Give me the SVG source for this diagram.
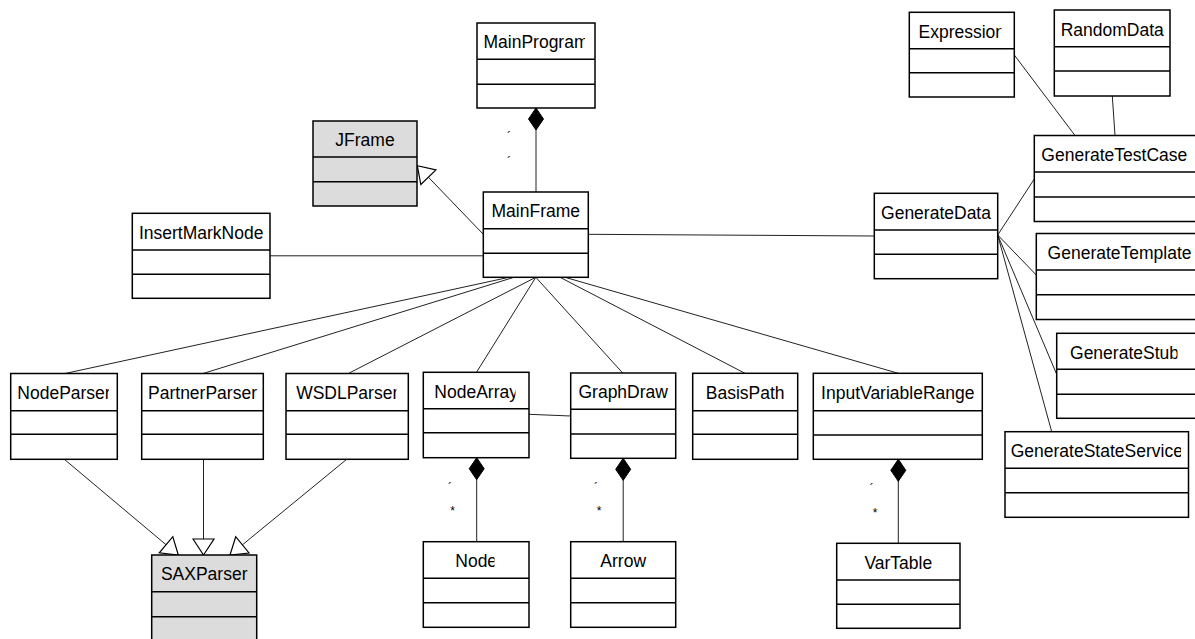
<svg xmlns="http://www.w3.org/2000/svg" width="1195" height="639" viewBox="0 0 1195 639">
<style>
.box{fill:#ffffff;stroke:#000000;stroke-width:1.5}
.gray{fill:#dcdcdc}
.dv{stroke:#000000;stroke-width:1.5}
.lbl{font-family:"Liberation Sans",Arial,sans-serif;font-size:17.5px;fill:#000000;text-anchor:middle}
.mult{font-family:"Liberation Sans",Arial,sans-serif;font-size:12px;fill:#000000;text-anchor:middle}
.conn{stroke:#222222;stroke-width:1;fill:none}
.gen{marker-end:url(#genArrow)}
.comp{marker-start:url(#diamond)}
</style>
<defs>
<marker id="genArrow" markerUnits="userSpaceOnUse" viewBox="0 0 19 24" markerWidth="19" markerHeight="24" refX="17.5" refY="12" orient="auto">
<path d="M17.5,12 L1.5,1.5 L1.5,22.5 Z" fill="#ffffff" stroke="#000000" stroke-width="1.2"/>
</marker>
<marker id="diamond" markerUnits="userSpaceOnUse" viewBox="-1 -9 25 18" markerWidth="25" markerHeight="18" refX="0" refY="0" orient="auto">
<path d="M0,0 L11,-7.5 L22,0 L11,7.5 Z" fill="#000000" stroke="#000000" stroke-width="1"/>
</marker>
<clipPath id="cMainProgram"><rect x="470" y="20" width="115" height="40"/></clipPath>
<clipPath id="cExpression"><rect x="905" y="10" width="96.5" height="40"/></clipPath>
<clipPath id="cNodeParser"><rect x="5" y="370" width="104" height="40"/></clipPath>
<clipPath id="cWSDLParser"><rect x="280" y="370" width="116.5" height="40"/></clipPath>
<clipPath id="cNodeArray"><rect x="420" y="370" width="95.5" height="40"/></clipPath>
<clipPath id="cNode"><rect x="420" y="540" width="74.5" height="40"/></clipPath>
<clipPath id="cGenerateStub"><rect x="1050" y="330" width="127.5" height="40"/></clipPath>
<clipPath id="cGenerateStateService"><rect x="1000" y="430" width="181" height="40"/></clipPath>
</defs>

<g id="connectors">
<line class="conn comp" x1="536" y1="108" x2="536" y2="192"/>
<line class="conn gen" x1="483.3" y1="234.3" x2="417.3" y2="165.7"/>
<line class="conn" x1="270" y1="255.8" x2="483.3" y2="255.8"/>
<line class="conn" x1="588.3" y1="234.3" x2="874.3" y2="236"/>
<line class="conn" x1="997.7" y1="235" x2="1034.3" y2="179"/>
<line class="conn" x1="997.7" y1="235" x2="1036.3" y2="275"/>
<line class="conn" x1="997.7" y1="235" x2="1056.7" y2="374.3"/>
<line class="conn" x1="997.7" y1="235" x2="1051.7" y2="431.7"/>
<line class="conn" x1="1014.3" y1="55" x2="1075" y2="135.5"/>
<line class="conn" x1="1112.3" y1="96" x2="1115" y2="135.5"/>
<line class="conn" x1="509" y1="277.3" x2="65" y2="373.5"/>
<line class="conn" x1="514" y1="277.3" x2="203" y2="373.5"/>
<line class="conn" x1="535.8" y1="277.3" x2="348.3" y2="373.5"/>
<line class="conn" x1="535.8" y1="277.3" x2="476.5" y2="372.3"/>
<line class="conn" x1="535.8" y1="277.3" x2="622.7" y2="373"/>
<line class="conn" x1="560" y1="277.3" x2="745" y2="373.3"/>
<line class="conn" x1="565" y1="277.3" x2="898.3" y2="373.3"/>
<line class="conn" x1="529" y1="414.3" x2="570.7" y2="416"/>
<line class="conn comp" x1="476.7" y1="457.7" x2="476.7" y2="541.7"/>
<line class="conn comp" x1="623.2" y1="458.3" x2="623.2" y2="541.7"/>
<line class="conn comp" x1="898.3" y1="459.3" x2="898.3" y2="543.3"/>
<line class="conn gen" x1="64.3" y1="459.3" x2="178.3" y2="555"/>
<line class="conn gen" x1="203.5" y1="459.3" x2="203.5" y2="555"/>
<line class="conn gen" x1="346.7" y1="459.3" x2="230" y2="555"/>
<text class="mult" x="509" y="141">´</text>
<text class="mult" x="509" y="166">´</text>
<text class="mult" x="450" y="491.5">´</text>
<text class="mult" x="452.7" y="514.5">*</text>
<text class="mult" x="596" y="492">´</text>
<text class="mult" x="599" y="514.5">*</text>
<text class="mult" x="871.7" y="493">´</text>
<text class="mult" x="875" y="517">*</text>
</g>

<g id="MainProgram">
<rect class="box" x="477" y="23" width="118" height="85"/>
<line class="dv" x1="477" y1="59.3" x2="595" y2="59.3"/>
<line class="dv" x1="477" y1="84.3" x2="595" y2="84.3"/>
<text class="lbl" x="536" y="48" clip-path="url(#cMainProgram)">MainProgram</text>
</g>
<g id="JFrame">
<rect class="box gray" x="313" y="121" width="104" height="85"/>
<line class="dv" x1="313" y1="157" x2="417" y2="157"/>
<line class="dv" x1="313" y1="181.7" x2="417" y2="181.7"/>
<text class="lbl" x="365" y="146">JFrame</text>
</g>
<g id="MainFrame">
<rect class="box" x="483.3" y="192" width="105" height="85.3"/>
<line class="dv" x1="483.3" y1="228.7" x2="588.3" y2="228.7"/>
<line class="dv" x1="483.3" y1="253.3" x2="588.3" y2="253.3"/>
<text class="lbl" x="535.8" y="217">MainFrame</text>
</g>
<g id="InsertMarkNode">
<rect class="box" x="132.3" y="213.3" width="137.7" height="85"/>
<line class="dv" x1="132.3" y1="250" x2="270" y2="250"/>
<line class="dv" x1="132.3" y1="274.3" x2="270" y2="274.3"/>
<text class="lbl" x="201.2" y="238.5">InsertMarkNode</text>
</g>
<g id="Expression">
<rect class="box" x="909.3" y="12.3" width="105" height="84.7"/>
<line class="dv" x1="909.3" y1="48.7" x2="1014.3" y2="48.7"/>
<line class="dv" x1="909.3" y1="72.7" x2="1014.3" y2="72.7"/>
<text class="lbl" x="961.8" y="37.8" clip-path="url(#cExpression)">Expression</text>
</g>
<g id="RandomData">
<rect class="box" x="1054.3" y="10" width="115.7" height="86"/>
<line class="dv" x1="1054.3" y1="46.7" x2="1170" y2="46.7"/>
<line class="dv" x1="1054.3" y1="71" x2="1170" y2="71"/>
<text class="lbl" x="1112.2" y="35.5">RandomData</text>
</g>
<g id="GenerateTestCase">
<rect class="box" x="1034.3" y="135.5" width="162.7" height="86"/>
<line class="dv" x1="1034.3" y1="172" x2="1197" y2="172"/>
<line class="dv" x1="1034.3" y1="197" x2="1197" y2="197"/>
<text class="lbl" x="1114.3" y="160.5">GenerateTestCase</text>
</g>
<g id="GenerateData">
<rect class="box" x="874.3" y="193.3" width="123.4" height="85.4"/>
<line class="dv" x1="874.3" y1="230" x2="997.7" y2="230"/>
<line class="dv" x1="874.3" y1="254.3" x2="997.7" y2="254.3"/>
<text class="lbl" x="936" y="218.5">GenerateData</text>
</g>
<g id="GenerateTemplate">
<rect class="box" x="1036.3" y="233.5" width="170" height="86"/>
<line class="dv" x1="1036.3" y1="270" x2="1206" y2="270"/>
<line class="dv" x1="1036.3" y1="294.7" x2="1206" y2="294.7"/>
<text class="lbl" x="1119.6" y="258.5">GenerateTemplate</text>
</g>
<g id="GenerateStub">
<rect class="box" x="1056.7" y="333.3" width="140.3" height="85"/>
<line class="dv" x1="1056.7" y1="369.3" x2="1197" y2="369.3"/>
<line class="dv" x1="1056.7" y1="394.2" x2="1197" y2="394.2"/>
<text class="lbl" x="1124.5" y="358.5" clip-path="url(#cGenerateStub)">GenerateStub</text>
</g>
<g id="GenerateStateService">
<rect class="box" x="1005" y="431.7" width="183.5" height="85.6"/>
<line class="dv" x1="1005" y1="468.3" x2="1188.5" y2="468.3"/>
<line class="dv" x1="1005" y1="492.7" x2="1188.5" y2="492.7"/>
<text class="lbl" x="1096.8" y="456.7" clip-path="url(#cGenerateStateService)">GenerateStateService</text>
</g>
<g id="NodeParser">
<rect class="box" x="10.7" y="373.5" width="106.6" height="85.8"/>
<line class="dv" x1="10.7" y1="410.7" x2="117.3" y2="410.7"/>
<line class="dv" x1="10.7" y1="434.3" x2="117.3" y2="434.3"/>
<text class="lbl" x="64" y="398.5" clip-path="url(#cNodeParser)">NodeParser</text>
</g>
<g id="PartnerParser">
<rect class="box" x="141.7" y="373.5" width="121.6" height="85.8"/>
<line class="dv" x1="141.7" y1="410.7" x2="263.3" y2="410.7"/>
<line class="dv" x1="141.7" y1="434.3" x2="263.3" y2="434.3"/>
<text class="lbl" x="202.5" y="398.5">PartnerParser</text>
</g>
<g id="WSDLParser">
<rect class="box" x="286" y="373.5" width="122.3" height="85.8"/>
<line class="dv" x1="286" y1="410.7" x2="408.3" y2="410.7"/>
<line class="dv" x1="286" y1="434.3" x2="408.3" y2="434.3"/>
<text class="lbl" x="347.2" y="398.5" clip-path="url(#cWSDLParser)">WSDLParser</text>
</g>
<g id="NodeArray">
<rect class="box" x="423.3" y="372.3" width="105.7" height="85.4"/>
<line class="dv" x1="423.3" y1="408.7" x2="529" y2="408.7"/>
<line class="dv" x1="423.3" y1="432.7" x2="529" y2="432.7"/>
<text class="lbl" x="476.2" y="397.5" clip-path="url(#cNodeArray)">NodeArray</text>
</g>
<g id="GraphDraw">
<rect class="box" x="570.7" y="373" width="105" height="85.3"/>
<line class="dv" x1="570.7" y1="409.3" x2="675.7" y2="409.3"/>
<line class="dv" x1="570.7" y1="434" x2="675.7" y2="434"/>
<text class="lbl" x="623.2" y="398">GraphDraw</text>
</g>
<g id="BasisPath">
<rect class="box" x="692.7" y="373.3" width="105" height="86"/>
<line class="dv" x1="692.7" y1="410.7" x2="797.7" y2="410.7"/>
<line class="dv" x1="692.7" y1="434.3" x2="797.7" y2="434.3"/>
<text class="lbl" x="745.2" y="398.5">BasisPath</text>
</g>
<g id="InputVariableRange">
<rect class="box" x="813.3" y="373.3" width="169" height="86"/>
<line class="dv" x1="813.3" y1="410.7" x2="982.3" y2="410.7"/>
<line class="dv" x1="813.3" y1="435" x2="982.3" y2="435"/>
<text class="lbl" x="897.8" y="398.5">InputVariableRange</text>
</g>
<g id="SAXParser">
<rect class="box gray" x="151.7" y="555" width="105" height="87"/>
<line class="dv" x1="151.7" y1="591.7" x2="256.7" y2="591.7"/>
<line class="dv" x1="151.7" y1="616.7" x2="256.7" y2="616.7"/>
<text class="lbl" x="204.2" y="580">SAXParser</text>
</g>
<g id="Node">
<rect class="box" x="423.3" y="541.7" width="105.7" height="85.6"/>
<line class="dv" x1="423.3" y1="578.3" x2="529" y2="578.3"/>
<line class="dv" x1="423.3" y1="602.7" x2="529" y2="602.7"/>
<text class="lbl" x="476.2" y="566.5" clip-path="url(#cNode)">Node</text>
</g>
<g id="Arrow">
<rect class="box" x="570.7" y="541.7" width="105" height="85.6"/>
<line class="dv" x1="570.7" y1="578.3" x2="675.7" y2="578.3"/>
<line class="dv" x1="570.7" y1="602.7" x2="675.7" y2="602.7"/>
<text class="lbl" x="623.2" y="566.5">Arrow</text>
</g>
<g id="VarTable">
<rect class="box" x="836.7" y="543.3" width="123.3" height="85"/>
<line class="dv" x1="836.7" y1="580" x2="960" y2="580"/>
<line class="dv" x1="836.7" y1="604.3" x2="960" y2="604.3"/>
<text class="lbl" x="898.3" y="568.5">VarTable</text>
</g>
</svg>
